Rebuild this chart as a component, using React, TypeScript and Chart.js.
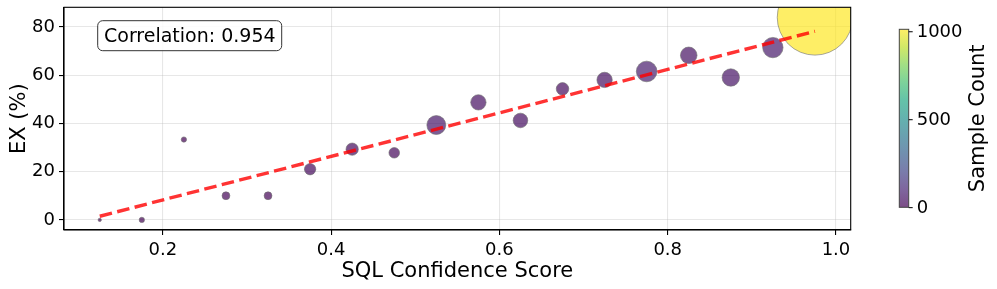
import React, { useEffect, useRef } from "react";
import { Chart, registerables } from "chart.js";

Chart.register(...registerables);

// ---- data ----
const CONFIDENCE = [0.125, 0.175, 0.225, 0.275, 0.325, 0.375, 0.425, 0.475, 0.525, 0.575, 0.625, 0.675, 0.725, 0.775, 0.825, 0.875, 0.925, 0.975];
const EX_PCT = [0, 0, 33.3, 10, 10, 21, 29.3, 27.8, 39.3, 48.7, 41.2, 54.3, 58, 61.5, 68.2, 59, 71.4, 83.9];
const SAMPLE_COUNT = [2, 5, 5, 11, 11, 23, 27, 20, 64, 42, 38, 28, 42, 76, 49, 54, 74, 1014];
const X_TICKS = [0.2, 0.4, 0.6, 0.8, 1.0];
const Y_TICKS = [0, 20, 40, 60, 80];
const CBAR_TICKS = [0, 500, 1000];
const CORRELATION_LABEL = "Correlation: 0.954";
const X_TITLE = "SQL Confidence Score";
const Y_TITLE = "EX (%)";
const CBAR_TITLE = "Sample Count";

const FONT = "'DejaVu Sans', 'Liberation Sans', sans-serif";

const VIRIDIS = ["#440154", "#482475", "#414487", "#355f8d", "#2a788e", "#21918c", "#22a884", "#44bf70", "#7ad151", "#bddf26", "#fde725"];
function hexToRgb(h: string) {
  return [parseInt(h.slice(1, 3), 16), parseInt(h.slice(3, 5), 16), parseInt(h.slice(5, 7), 16)];
}
function viridis(t: number, alpha: number) {
  const tt = Math.max(0, Math.min(1, t)) * (VIRIDIS.length - 1);
  const i = Math.min(Math.floor(tt), VIRIDIS.length - 2);
  const f = tt - i;
  const a = hexToRgb(VIRIDIS[i]);
  const b = hexToRgb(VIRIDIS[i + 1]);
  const c = a.map((v, k) => Math.round(v + (b[k] - v) * f));
  return `rgba(${c[0]},${c[1]},${c[2]},${alpha})`;
}

export default function App() {
  const ref = useRef<HTMLCanvasElement | null>(null);

  useEffect(() => {
    if (!ref.current) return;
    const cMin = Math.min(...SAMPLE_COUNT);
    const cMax = Math.max(...SAMPLE_COUNT);
    const rScale = 37.7 / Math.sqrt(cMax);

    // least-squares trend line (as np.polyfit deg 1)
    const n = CONFIDENCE.length;
    const mx = CONFIDENCE.reduce((s, v) => s + v, 0) / n;
    const my = EX_PCT.reduce((s, v) => s + v, 0) / n;
    let sxy = 0, sxx = 0;
    for (let i = 0; i < n; i++) {
      sxy += (CONFIDENCE[i] - mx) * (EX_PCT[i] - my);
      sxx += (CONFIDENCE[i] - mx) ** 2;
    }
    const slope = sxy / sxx;
    const icpt = my - slope * mx;
    const xLo = Math.min(...CONFIDENCE);
    const xHi = Math.max(...CONFIDENCE);

    const xSpan = xHi - xLo;
    const yLo = Math.min(...EX_PCT);
    const yHi = Math.max(...EX_PCT);
    const ySpan = yHi - yLo;

    const extras = {
      id: "extras",
      afterDraw(chart: any) {
        const ctx = chart.ctx;
        const a = chart.chartArea;
        ctx.save();
        // spines
        ctx.strokeStyle = "#000";
        ctx.lineWidth = 1.1;
        ctx.strokeRect(a.left, a.top, a.right - a.left, a.bottom - a.top);

        // correlation box
        const bx = a.left + 33.7, by = a.top + 13.4, bw = 184, bh = 30, rr = 5;
        ctx.beginPath();
        ctx.moveTo(bx + rr, by);
        ctx.lineTo(bx + bw - rr, by);
        ctx.arcTo(bx + bw, by, bx + bw, by + rr, rr);
        ctx.lineTo(bx + bw, by + bh - rr);
        ctx.arcTo(bx + bw, by + bh, bx + bw - rr, by + bh, rr);
        ctx.lineTo(bx + rr, by + bh);
        ctx.arcTo(bx, by + bh, bx, by + bh - rr, rr);
        ctx.lineTo(bx, by + rr);
        ctx.arcTo(bx, by, bx + rr, by, rr);
        ctx.closePath();
        ctx.fillStyle = "rgba(255,255,255,0.85)";
        ctx.fill();
        ctx.strokeStyle = "#333";
        ctx.lineWidth = 1;
        ctx.stroke();
        ctx.fillStyle = "#000";
        ctx.font = `19px ${FONT}`;
        ctx.textBaseline = "alphabetic";
        ctx.textAlign = "left";
        ctx.fillText(CORRELATION_LABEL, bx + 6.3, by + 21.2);

        // colorbar
        const cx = a.right + 48.6, cw = 9.4;
        const ct = 29.3, cb = 207.3;
        const g = ctx.createLinearGradient(0, cb, 0, ct);
        for (let k = 0; k <= 20; k++) g.addColorStop(k / 20, viridis(k / 20, 0.7));
        ctx.fillStyle = g;
        ctx.fillRect(cx, ct, cw, cb - ct);
        ctx.strokeStyle = "#444";
        ctx.lineWidth = 1;
        ctx.strokeRect(cx, ct, cw, cb - ct);
        ctx.font = `18px ${FONT}`;
        ctx.fillStyle = "#000";
        ctx.textBaseline = "middle";
        ctx.textAlign = "left";
        for (const t of CBAR_TICKS) {
          const yy = cb - ((t - cMin) / (cMax - cMin)) * (cb - ct);
          ctx.beginPath();
          ctx.strokeStyle = "#000";
          ctx.moveTo(cx + cw, yy);
          ctx.lineTo(cx + cw + 4, yy);
          ctx.stroke();
          ctx.fillText(String(t), cx + cw + 8, yy + 1);
        }
        ctx.save();
        ctx.translate(cx + 79.5, (ct + cb) / 2);
        ctx.rotate(-Math.PI / 2);
        ctx.font = `21px ${FONT}`;
        ctx.textAlign = "center";
        ctx.textBaseline = "middle";
        ctx.fillText(CBAR_TITLE, 0, 0);
        ctx.restore();
        ctx.restore();
      },
    };

    Chart.defaults.color = "#000";
    Chart.defaults.font.family = FONT;

    const chart = new Chart(ref.current, {
      type: "scatter",
      data: {
        datasets: [
          {
            type: "line",
            data: [
              { x: xLo, y: icpt + slope * xLo },
              { x: xHi, y: icpt + slope * xHi },
            ],
            borderColor: "rgba(255,0,0,0.8)",
            borderWidth: 3.4,
            borderDash: [12.6, 5.4],
            pointRadius: 0,
            fill: false,
            order: 0,
          } as any,
          {
            type: "scatter",
            data: CONFIDENCE.map((x, i) => ({ x, y: EX_PCT[i] })),
            pointRadius: SAMPLE_COUNT.map((c) => rScale * Math.sqrt(c)),
            pointBackgroundColor: SAMPLE_COUNT.map((c) => viridis((c - cMin) / (cMax - cMin), 0.7)),
            pointBorderColor: "rgba(110,110,110,0.75)",
            pointBorderWidth: 0.8,
            showLine: false,
            order: 1,
          } as any,
        ],
      },
      options: {
        animation: false,
        responsive: false,
        events: [],
        layout: { autoPadding: false, padding: { left: 0, top: 7.3, right: 146.3, bottom: 0 } },
        plugins: { legend: { display: false }, tooltip: { enabled: false } },
        scales: {
          x: {
            type: "linear",
            min: xLo - 0.05 * xSpan,
            max: xHi + 0.05 * xSpan,
            afterBuildTicks: (s: any) => { s.ticks = X_TICKS.map((v) => ({ value: v })); },
            afterFit: (s: any) => { s.height = 59; s.paddingLeft = 0; s.paddingRight = 0; },
            ticks: { font: { size: 18 }, padding: 5, callback: (v: any) => Number(v).toFixed(1), maxRotation: 0 },
            grid: { color: "rgba(176,176,176,0.3)", lineWidth: 1.1, tickColor: "#000", tickLength: 5, tickWidth: 1.1 },
            border: { display: true, color: "#000", width: 1.1 },
            title: { display: true, text: X_TITLE, font: { size: 21 }, padding: { top: 0, bottom: 4.7 } },
          },
          y: {
            type: "linear",
            min: yLo - 0.05 * ySpan,
            max: yHi + 0.05 * ySpan,
            afterBuildTicks: (s: any) => { s.ticks = Y_TICKS.map((v) => ({ value: v })); },
            afterFit: (s: any) => { s.width = 64; s.paddingTop = 0; s.paddingBottom = 0; },
            ticks: { font: { size: 18 }, padding: 4, callback: (v: any) => String(v) },
            grid: { color: "rgba(176,176,176,0.3)", lineWidth: 1.1, tickColor: "#000", tickLength: 5, tickWidth: 1.1 },
            border: { display: true, color: "#000", width: 1.1 },
            title: { display: true, text: Y_TITLE, font: { size: 21 }, padding: { top: 6.5, bottom: 0 } },
          },
        },
      } as any,
      plugins: [extras],
    });
    return () => chart.destroy();
  }, []);

  return (
    <div style={{ position: "fixed", left: 0, top: 0, width: 997, height: 289, background: "#fff" }}>
      <canvas ref={ref} width={997} height={289} style={{ display: "block", width: 997, height: 289 }} />
    </div>
  );
}
